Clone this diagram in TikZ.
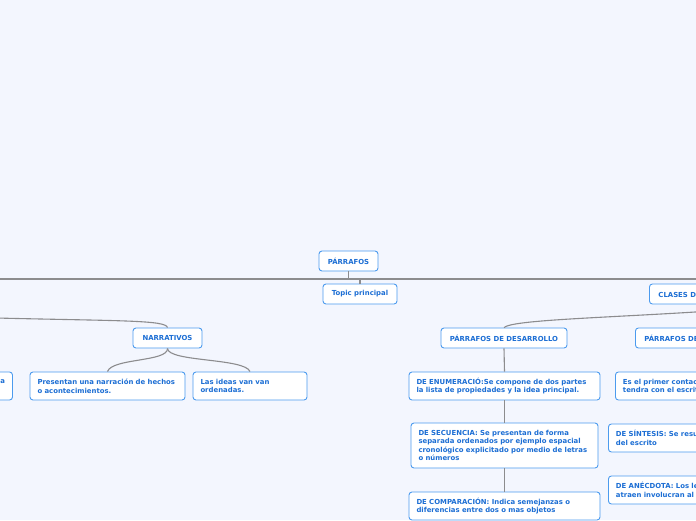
\documentclass[tikz,border=0pt]{standalone}
\usepackage{fontspec}
\setmainfont{DejaVu Sans}
\definecolor{bg}{RGB}{243,246,254}
\definecolor{tblue}{RGB}{28,110,212}
\definecolor{bord}{RGB}{76,155,238}
\definecolor{conn}{RGB}{140,140,142}
\tikzset{
  box/.style={draw=bord, fill=white, rounded corners=3pt, line width=0.9pt,
    text=tblue, font=\bfseries\fontsize{6.9}{8.6}\selectfont, inner sep=0pt,
    minimum height=20pt},
  multi/.style={box, inner xsep=7.5pt, align=left, minimum height=28pt},
  link/.style={draw=conn, line width=1.1pt},
  mainline/.style={draw=conn, line width=1.8pt}
}
\begin{document}
\begin{tikzpicture}[x=1pt,y=-1pt]
\useasboundingbox (0,0) rectangle (696,520);
\fill[bg] (0,0) rectangle (696,520);
\clip (0,0) rectangle (696,520);

% nodes
\node[box, minimum width=59pt] (parr) at (348.5,261) {PÁRRAFOS};
\node[box, minimum width=74pt] (topic) at (360,294) {Topic principal};
\node[box, anchor=west, inner xsep=9pt] (clases) at (649,294) {CLASES DE PÁRRAFOS};
\node[box, minimum width=126pt] (desa) at (504,338) {PÁRRAFOS DE DESARROLLO};
\node[box, anchor=west, inner xsep=9pt] (intro) at (635,338) {PÁRRAFOS DE INTRODUCCIÓN};
\node[box, minimum width=69pt] (narr) at (167.5,338) {NARRATIVOS};

\node[multi, text width=140pt] (pres) at (107.5,386) {Presentan una narración de hechos\\o acontecimientos.};
\node[multi, text width=99pt] (ideas) at (250,386) {Las ideas van van\\ordenadas.};
\node[multi, text width=110pt] (lpart) at (-50,386) {\hfill a\par\mbox{}};

\node[multi, text width=176pt] (enum) at (504.5,386) {DE ENUMERACIÓ:Se compone de dos partes\\la lista de propiedades y la idea principal.};
\node[multi, text width=172pt, minimum height=45pt] (secu) at (504.5,445.5) {DE SECUENCIA: Se presentan de forma\\separada ordenados por ejemplo espacial\\cronológico explicitado por medio de letras\\o números};
\node[multi, text width=176pt] (comp) at (504.5,506) {DE COMPARACIÓN: Indica semejanzas o\\diferencias entre dos o mas objetos};

\node[multi, anchor=west, text width=160pt] (primer) at (615,386) {Es el primer contacto que el lector\\tendra con el escrito};
\node[multi, anchor=west, text width=160pt] (sint) at (608,438) {DE SÍNTESIS: Se resume lo principal\\del escrito};
\node[multi, anchor=west, text width=160pt] (anec) at (608,490) {DE ANÉCDOTA: Los lectores se\\atraen involucran al lector};

% connectors
\coordinate (mainL) at (0,279);
\coordinate (mainR) at (696,279);
\coordinate (topicJ) at (360,279);
\coordinate (parrJ) at (348.5,279);
\coordinate (cr) at (700,311.7);
\coordinate (cl) at (-4,318);

\path[mainline] (mainL) -- (mainR);
\path[mainline] (parr.south) -- (parrJ);
\path[link] (topicJ) -- (topic.north);

\path[link] (cr) .. controls (600,318) and (512,320) .. (desa.north);
\path[link] (cl) .. controls (120,321) and (166,320) .. (narr.north);

\path[link] (narr.south) .. controls (168,362) and (112,358) .. (pres.north);
\path[link] (narr.south) .. controls (168,362) and (245,358) .. (ideas.north);

\path[link] (desa.south) -- (enum.north);
\path[link] (enum.south) -- (secu.north);
\path[link] (secu.south) -- (comp.north);
\end{tikzpicture}
\end{document}
